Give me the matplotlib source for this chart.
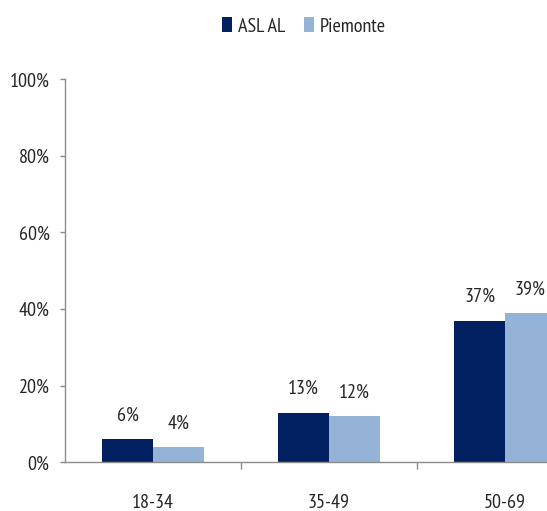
import matplotlib
matplotlib.use("Agg")
import matplotlib.pyplot as plt
from matplotlib import font_manager as fm
from matplotlib.patches import Patch
import numpy as np

categories = ["18-34", "35-49", "50-69"]
asl_al = [6, 13, 37]
piemonte = [4, 12, 39]
series_names = ["ASL AL", "Piemonte"]
yticks = [0, 20, 40, 60, 80, 100]

DARK = "#002060"
LIGHT = "#95B3D7"
TXT = "#262626"
AXC = "#8c8c8c"

candidates = ["PT Sans Narrow", "Liberation Sans Narrow", "Roboto Condensed",
              "Archivo Narrow", "Pragati Narrow", "Fira Sans Condensed",
              "Open Sans Condensed", "Carlito"]
chosen = None
for c in candidates:
    try:
        fm.findfont(fm.FontProperties(family=c), fallback_to_default=False)
        chosen = c
        break
    except Exception:
        continue
FONT = [chosen, "DejaVu Sans"] if chosen else ["DejaVu Sans"]
plt.rcParams["font.family"] = FONT
FS = 14.5

fig = plt.figure(figsize=(5.47, 5.11), dpi=100)
ax = fig.add_axes([65/547, 48.7/511, 528/547, 383/511])

x = np.arange(len(categories))
w = 0.287
b1 = ax.bar(x - w/2, asl_al, w, color=DARK, zorder=2)
b2 = ax.bar(x + w/2, piemonte, w, color=LIGHT, zorder=2)

for bars, vals in ((b1, asl_al), (b2, piemonte)):
    for r, v in zip(bars, vals):
        ax.annotate(f"{v}%", (r.get_x() + r.get_width()/2, r.get_height()),
                    xytext=(0, 13.3), textcoords="offset points",
                    ha="center", va="baseline", fontsize=FS, color=TXT)

ax.set_xlim(-0.5, 2.5)
ax.set_ylim(0, 100)
ax.set_yticks(yticks)
ax.set_yticklabels([f"{t}%" for t in yticks])
ax.set_xticks(x)
ax.set_xticklabels(categories)
ax.set_xticks([0.5, 1.5, 2.5], minor=True)
ax.tick_params(axis="x", which="major", length=0, pad=22.5, labelsize=FS, labelcolor=TXT)
ax.tick_params(axis="x", which="minor", length=5, color=AXC, width=1)
ax.tick_params(axis="y", length=3.6, color=AXC, width=1, pad=7.5, labelsize=FS, labelcolor=TXT)

for s in ("top", "right"):
    ax.spines[s].set_visible(False)
for s in ("left", "bottom"):
    ax.spines[s].set_color(AXC)
    ax.spines[s].set_linewidth(1)

handles = [Patch(facecolor=DARK, label=series_names[0]),
           Patch(facecolor=LIGHT, label=series_names[1])]
fig.legend(handles=handles, loc="center", bbox_to_anchor=(304/547, 1 - 26.5/511),
           ncol=2, frameon=False, fontsize=FS, handlelength=0.5, handleheight=0.75,
           handletextpad=0.3, columnspacing=0.9, labelcolor=TXT)

fig.savefig("out.png", dpi=100)
